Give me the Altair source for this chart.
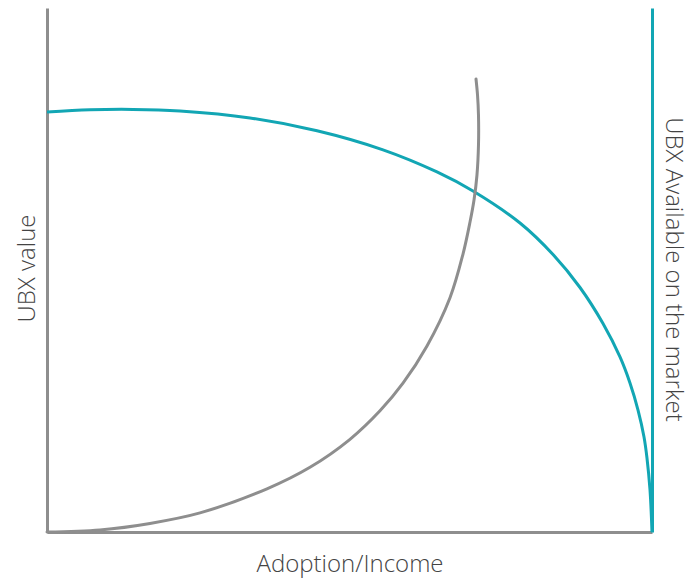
import altair as alt
import pandas as pd

# Supply curve (teal): x = adoption/income, y = UBX value (0-100 scale)
teal_x = [0, 7.11, 14.21, 21.98, 33.55, 44.63, 55.54, 64.46, 70.41, 78.18, 83.64, 88.10, 91.90, 94.71, 96.36, 97.69, 98.68, 99.17, 99.67, 100]
teal_y = [80.15, 80.57, 80.65, 80.34, 79.01, 76.58, 72.94, 68.72, 65.08, 58.97, 52.96, 46.66, 39.79, 33.40, 28.44, 23.28, 18.13, 14.12, 8.02, 0]

# Value curve (gray)
gray_x = [0, 8.76, 17.02, 25.29, 36.36, 43.47, 50.08, 55.04, 58.84, 62.81, 66.61, 68.76, 69.92, 70.58, 71.07, 71.32, 71.32, 71.16, 70.91]
gray_y = [0, 0.40, 1.64, 3.65, 8.24, 12.35, 17.69, 23.13, 28.40, 35.50, 44.71, 53.05, 59.16, 63.36, 68.13, 73.85, 79.58, 83.40, 86.45]

x_title = "Adoption/Income"
y_left_title = "UBX value"
y_right_title = "UBX Available on the market"

GRAY = "#8e8e8e"
TEAL = "#12a6b4"
TEXT = "#444444"
FONT = "Open Sans"
FS = 24

teal_df = pd.DataFrame({"x": teal_x, "y": teal_y, "i": list(range(len(teal_x)))})
gray_df = pd.DataFrame({"x": gray_x, "y": gray_y, "i": list(range(len(gray_x)))})

x_axis = alt.Axis(
    title=x_title, ticks=False, labels=False, grid=False,
    domainColor=GRAY, domainWidth=3,
    titleFont=FONT, titleFontSize=FS, titleFontWeight=300, titleColor=TEXT,
    titleBaseline="alphabetic", titleY=39,
)
x_enc = alt.X("x:Q", scale=alt.Scale(domain=[0, 100], nice=False), axis=x_axis)

teal = alt.Chart(teal_df).mark_line(
    color=TEAL, strokeWidth=3, interpolate="catmull-rom"
).encode(
    x=x_enc,
    y=alt.Y("y:Q", scale=alt.Scale(domain=[0, 100], nice=False),
            axis=alt.Axis(orient="right", title=y_right_title, ticks=False, labels=False, grid=False,
                          domainColor=TEAL, domainWidth=3,
                          titleFont=FONT, titleFontSize=FS, titleFontWeight=300, titleColor=TEXT,
                          titleAngle=90, titleBaseline="alphabetic", titleAlign="center",
                          titleX=13, titleY=261)),
    order=alt.Order("i:Q"),
)

gray = alt.Chart(gray_df).mark_line(
    color=GRAY, strokeWidth=3, interpolate="catmull-rom", strokeCap="round"
).encode(
    x=x_enc,
    y=alt.Y("y:Q", scale=alt.Scale(domain=[0, 100], nice=False),
            axis=alt.Axis(orient="left", title=y_left_title, ticks=False, labels=False, grid=False,
                          domainColor=GRAY, domainWidth=3,
                          titleFont=FONT, titleFontSize=FS, titleFontWeight=300, titleColor=TEXT,
                          titleAngle=270, titleBaseline="alphabetic", titleAlign="center",
                          titleX=-13, titleY=260)),
    order=alt.Order("i:Q"),
)

chart = alt.layer(teal, gray).resolve_scale(y="independent").properties(
    width=605, height=524,
    autosize=alt.AutoSizeParams(type="none"),
    padding={"left": 39, "top": 0, "right": 38, "bottom": 46},
    background="white",
).configure_view(stroke=None)

chart.save("out.html", embed_options={"renderer": "svg", "actions": False})
